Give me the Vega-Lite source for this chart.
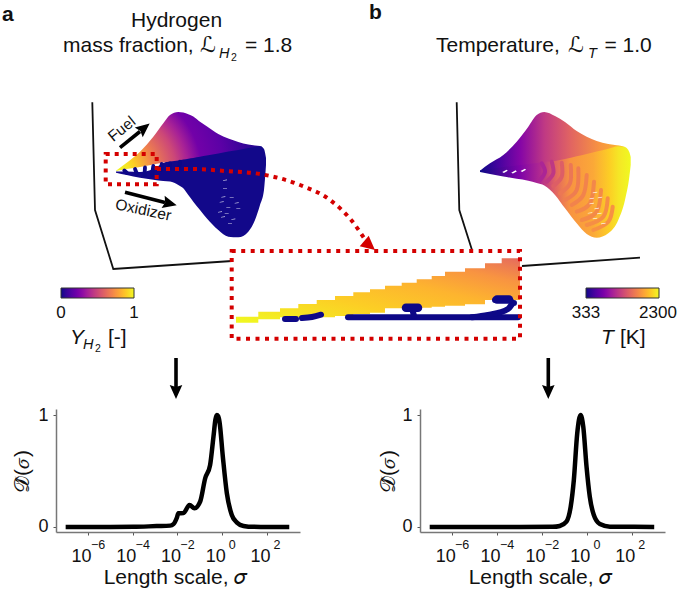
{
"$schema":"https://vega.github.io/schema/vega-lite/v6.json",
"width":685,"height":596,"padding":0,"autosize":"none","background":"white",
"config":{"view":{"stroke":null},"font":"Liberation Sans","text":{"font":"Liberation Sans","color":"#111111"}},
"resolve":{"scale":{"x":"independent","y":"independent","color":"independent"},"axis":{"x":"independent","y":"independent"}},
"layer":[
{"resolve":{"scale":{"color":"independent"}},
 "encoding":{"x":{"field":"x","type":"quantitative","scale":{"domain":[0,685],"range":[0,685],"nice":false,"zero":false},"axis":null},
  "y":{"field":"y","type":"quantitative","scale":{"domain":[0,596],"range":[0,596],"nice":false,"zero":false},"axis":null}},
 "layer":[
 {"data":{"values":[{"s":"a","x":92.3,"y":102.3},{"s":"a","x":95,"y":210},{"s":"a","x":113.3,"y":269},{"s":"a","x":232,"y":261},{"s":"b","x":456.7,"y":102.3},{"s":"b","x":459.3,"y":210},{"s":"b","x":472,"y":250},{"s":"c","x":522,"y":266},{"s":"c","x":640,"y":257.7}]},
  "mark":{"type":"line","color":"#111111","strokeWidth":1.8},"encoding":{"detail":{"field":"s"},"order":{"field":"x"}}},
 {"data":{"name":"left","values":[
  {"x":116,"top":170.7,"mid":171,"btop":171.5,"bot":172.7},{"x":126.7,"top":162.7,"mid":169,"btop":171.5,"bot":175},{"x":140,"top":151.7,"mid":167,"btop":172,"bot":177.7},{"x":153.3,"top":136.7,"mid":164.5,"btop":169,"bot":179.7},{"x":163.3,"top":123.3,"mid":162.5,"btop":163,"bot":181},{"x":170,"top":115,"mid":161.5,"btop":160.5,"bot":181.5},{"x":178.3,"top":112,"mid":160.5,"btop":159.5,"bot":185},{"x":183.3,"top":112.6,"mid":159.5,"btop":158.5,"bot":188.3},{"x":188.3,"top":114.3,"mid":158.7,"btop":157.7,"bot":195},{"x":193.3,"top":116.5,"mid":158,"btop":157,"bot":201.7},{"x":200,"top":121.7,"mid":156.8,"btop":155.8,"bot":210},{"x":206.7,"top":126.3,"mid":155.6,"btop":154.6,"bot":218.3},{"x":218.3,"top":134,"mid":153.5,"btop":152.5,"bot":230},{"x":228.3,"top":138.5,"mid":151.6,"btop":150.6,"bot":236.7},{"x":238.3,"top":142,"mid":150,"btop":149,"bot":237.3},{"x":248.3,"top":144.5,"mid":148,"btop":147,"bot":231.7},{"x":255,"top":145.5,"mid":147,"btop":146,"bot":220},{"x":260,"top":146,"mid":146.3,"btop":146,"bot":205},{"x":264,"top":149,"mid":149,"btop":149,"bot":190},{"x":266,"top":158,"mid":158,"btop":158,"bot":165}]},
  "mark":{"type":"area","orient":"vertical","interpolate":"monotone","color":"#12088a"},"encoding":{"y":{"field":"btop"},"y2":{"field":"bot"}}},
 {"data":{"name":"left"},
  "mark":{"type":"area","orient":"vertical","interpolate":"monotone","color":{"gradient":"radial","x1":0,"y1":0.7,"r1":0,"x2":0,"y2":0.7,"r2":1,"stops":[{"offset":0,"color":"#f0f921"},{"offset":0.08,"color":"#f5e626"},{"offset":0.13,"color":"#fcce25"},{"offset":0.25,"color":"#f1844b"},{"offset":0.4,"color":"#cc4778"},{"offset":0.48,"color":"#a82296"},{"offset":0.57,"color":"#7201a8"},{"offset":0.72,"color":"#5c01a6"},{"offset":0.92,"color":"#2c0594"},{"offset":1,"color":"#220690"}]}},
  "encoding":{"y":{"field":"top"},"y2":{"field":"mid"}}},
 {"data":{"values":[{"s":1,"x":124.3,"y":170.5,"Y":0},{"s":1,"x":127,"y":173,"Y":0},{"s":2,"x":135,"y":169,"Y":0},{"s":2,"x":137,"y":174,"Y":0},{"s":3,"x":145,"y":167.5,"Y":0},{"s":3,"x":144.5,"y":175,"Y":0},{"s":4,"x":153.3,"y":166,"Y":0},{"s":4,"x":152,"y":175,"Y":0},{"s":5,"x":161.7,"y":164,"Y":0},{"s":5,"x":161,"y":170,"Y":0},{"s":6,"x":170,"y":163.3,"Y":0},{"s":6,"x":169.5,"y":168,"Y":0},{"s":7,"x":180,"y":161.7,"Y":0},{"s":7,"x":179.5,"y":166,"Y":0}]},
  "mark":{"type":"line","strokeWidth":3.8,"strokeCap":"round"},
  "encoding":{"detail":{"field":"s"},"color":{"field":"Y","type":"quantitative","scale":{"scheme":"plasma","domain":[0,1]},
   "legend":{"orient":"none","legendX":61,"legendY":288,"direction":"horizontal","title":null,"gradientLength":73,"gradientThickness":10,"gradientStrokeColor":"#333333","gradientStrokeWidth":1,"values":[0,1],"labelExpr":"''"}}}},
 {"data":{"values":[{"x":225,"y":180},{"x":225,"y":188.3},{"x":223.3,"y":196.7},{"x":231.7,"y":197.3},{"x":221.7,"y":201.7},{"x":236.7,"y":202.7},{"x":228.3,"y":207.3},{"x":220,"y":211.7},{"x":238.3,"y":208.3},{"x":226.7,"y":213.3},{"x":233.3,"y":219},{"x":230,"y":223.3},{"x":223,"y":216.7}]},
  "mark":{"type":"point","filled":true,"shape":"M-1,0.1L1,-0.2L1,0.1L-1,0.4Z","size":16,"color":"white","opacity":0.85}},
 {"data":{"name":"right","values":[
  {"x":480,"top":170.7,"mid":171,"btop":170.5,"bot":172},{"x":490,"top":163.3,"mid":169,"btop":168,"bot":174},{"x":503.3,"top":155,"mid":167,"btop":166,"bot":176.5},{"x":516.7,"top":141.7,"mid":165.5,"btop":164.5,"bot":178.8},{"x":528.3,"top":126.7,"mid":164,"btop":163,"bot":180.7},{"x":536.7,"top":115,"mid":163,"btop":162,"bot":183},{"x":544.3,"top":112,"mid":162,"btop":161,"bot":185.5},{"x":555,"top":116,"mid":161,"btop":160,"bot":195},{"x":565,"top":122,"mid":159,"btop":158,"bot":208.3},{"x":576.7,"top":131,"mid":156.3,"btop":155.3,"bot":223.3},{"x":586.7,"top":136.7,"mid":154,"btop":153,"bot":234},{"x":596.7,"top":141,"mid":151.5,"btop":150.5,"bot":237.7},{"x":608.3,"top":144,"mid":148.7,"btop":147.7,"bot":233.3},{"x":618.3,"top":145.5,"mid":146.2,"btop":145.7,"bot":220},{"x":625,"top":147,"mid":147,"btop":147,"bot":200},{"x":629.3,"top":152,"mid":152,"btop":152,"bot":177},{"x":630.7,"top":157,"mid":157,"btop":157,"bot":165}]},
  "mark":{"type":"area","orient":"vertical","interpolate":"monotone","color":{"gradient":"linear","x1":0,"y1":0,"x2":1,"y2":0,"stops":[{"offset":0,"color":"#0d0887"},{"offset":0.265,"color":"#7e03a8"},{"offset":0.4,"color":"#b12a90"},{"offset":0.5,"color":"#e16462"},{"offset":0.6,"color":"#f89441"},{"offset":0.75,"color":"#fba838"},{"offset":0.86,"color":"#fcce25"},{"offset":0.92,"color":"#f5e626"},{"offset":1,"color":"#f0f921"}]}},
  "encoding":{"y":{"field":"btop"},"y2":{"field":"bot"}}},
 {"data":{"name":"right"},
  "mark":{"type":"area","orient":"vertical","interpolate":"monotone","color":{"gradient":"linear","x1":0,"y1":0,"x2":1,"y2":0,"stops":[{"offset":0,"color":"#0d0887"},{"offset":0.13,"color":"#4903a0"},{"offset":0.27,"color":"#8606a6"},{"offset":0.43,"color":"#c03a83"},{"offset":0.6,"color":"#e16462"},{"offset":0.8,"color":"#f89540"},{"offset":1,"color":"#fdc328"}]}},
  "encoding":{"y":{"field":"top"},"y2":{"field":"mid"}}},
 {"data":{"values":[
  {"s":1,"x":541.7,"y":163.3,"T":1080},{"s":1,"x":545,"y":171.7,"T":1080},{"s":1,"x":540,"y":180,"T":1080},
  {"s":2,"x":551.7,"y":161.7,"T":1218},{"s":2,"x":553.3,"y":173.3,"T":1218},{"s":2,"x":546.7,"y":181.7,"T":1218},
  {"s":3,"x":561.7,"y":162.7,"T":1474},{"s":3,"x":561.7,"y":176.7,"T":1474},{"s":3,"x":553.3,"y":186,"T":1474},
  {"s":4,"x":570.7,"y":165,"T":1631},{"s":4,"x":570,"y":183.3,"T":1631},{"s":4,"x":560,"y":193.3,"T":1631},
  {"s":5,"x":578.3,"y":168.3,"T":1670},{"s":5,"x":576.7,"y":190,"T":1670},{"s":5,"x":565,"y":200,"T":1670},
  {"s":6,"x":586.7,"y":175,"T":1710},{"s":6,"x":583.3,"y":195,"T":1710},{"s":6,"x":571.7,"y":205,"T":1710},
  {"s":7,"x":594,"y":181.7,"T":1730},{"s":7,"x":590,"y":203.3,"T":1730},{"s":7,"x":576.7,"y":211.7,"T":1730},
  {"s":8,"x":601,"y":190,"T":1749},{"s":8,"x":596.7,"y":211.7,"T":1749},{"s":8,"x":581.7,"y":220,"T":1749},
  {"s":9,"x":607.7,"y":198.3,"T":1769},{"s":9,"x":603.3,"y":216.7,"T":1769},{"s":9,"x":586.7,"y":225,"T":1769},
  {"s":10,"x":612.7,"y":206.7,"T":1789},{"s":10,"x":608.3,"y":221.7,"T":1789},{"s":10,"x":593.3,"y":230,"T":1789}]},
  "mark":{"type":"line","strokeWidth":4,"strokeCap":"round","interpolate":"natural"},
  "encoding":{"detail":{"field":"s"},"order":{"field":"y"},"color":{"field":"T","type":"quantitative","scale":{"scheme":"plasma","domain":[333,2300]},
   "legend":{"orient":"none","legendX":586,"legendY":288,"direction":"horizontal","title":null,"gradientLength":73,"gradientThickness":10,"gradientStrokeColor":"#333333","gradientStrokeWidth":1,"values":[333,2300],"labelExpr":"''"}}}},
 {"data":{"values":[{"x":505,"y":171},{"x":514,"y":171.7},{"x":523.3,"y":170}]},
  "mark":{"type":"point","filled":true,"shape":"M-1,0.4L0.6,-0.5L1,-0.1L-0.4,0.7Z","size":30,"color":"white","opacity":1}},
 {"data":{"values":[{"x":595,"y":192.3},{"x":591.7,"y":198.3},{"x":600,"y":197.3},{"x":591.7,"y":203.3},{"x":596.7,"y":208.3},{"x":590,"y":212.7},{"x":599.3,"y":213.3},{"x":595,"y":218.3},{"x":603.3,"y":223.3}]},
  "mark":{"type":"point","filled":true,"shape":"M-1,0.1L1,-0.2L1,0.1L-1,0.4Z","size":20,"color":"white","opacity":0.9}},
 {"data":{"values":[{"x":105.7,"x2":156.7,"y":154,"y2":184.3}]},
  "mark":{"type":"rect","fill":null,"stroke":"#d40000","strokeWidth":4,"strokeDash":[4,5]},"encoding":{"x2":{"field":"x2"},"y2":{"field":"y2"}}},
 {"data":{"values":[{"x":157,"y":169},{"x":193,"y":169},{"x":225,"y":171},{"x":260,"y":174},{"x":300,"y":185},{"x":330,"y":200},{"x":352,"y":221},{"x":366,"y":241}]},
  "mark":{"type":"line","color":"#d40000","strokeWidth":4,"strokeDash":[4,5],"interpolate":"monotone"}},
 {"data":{"values":[{"x":231.7,"x2":520,"y":251,"y2":338.7}]},
  "mark":{"type":"rect","color":"white"},"encoding":{"x2":{"field":"x2"},"y2":{"field":"y2"}}},
 {"data":{"values":[{"x":236,"top":316.7,"bot":322.7},{"x":258.3,"top":311.7,"bot":319.3},{"x":280,"top":308.3,"bot":317.3},{"x":298.3,"top":304,"bot":317.3},{"x":316.7,"top":300,"bot":317.3},{"x":335,"top":296,"bot":316},{"x":353.3,"top":292.3,"bot":314},{"x":370,"top":289.3,"bot":312.7},{"x":385,"top":285.7,"bot":308.3},{"x":401.7,"top":282.7,"bot":308.3},{"x":416.7,"top":279.3,"bot":307.7},{"x":431.7,"top":276,"bot":306.7},{"x":445,"top":271.7,"bot":305.7},{"x":465,"top":268.3,"bot":304.3},{"x":485,"top":263.3,"bot":300},{"x":501.7,"top":258.3,"bot":300},{"x":520,"top":256.7,"bot":300}]},
  "mark":{"type":"area","orient":"vertical","interpolate":"step-after","color":{"gradient":"linear","x1":0,"y1":1,"x2":1,"y2":0,"stops":[{"offset":0,"color":"#f0f921"},{"offset":0.35,"color":"#fcce25"},{"offset":0.6,"color":"#fdb42f"},{"offset":0.8,"color":"#f89441"},{"offset":1,"color":"#e4685f"}]}},
  "encoding":{"y":{"field":"top"},"y2":{"field":"bot"}}},
 {"data":{"values":[{"s":1,"o":1,"x":285,"y":319},{"s":1,"o":2,"x":296,"y":319},{"s":2,"o":1,"x":302,"y":318},{"s":2,"o":2,"x":312,"y":317},{"s":2,"o":3,"x":321,"y":314.7},{"s":3,"o":1,"x":348,"y":317.3},{"s":3,"o":2,"x":518,"y":317.3},{"s":5,"o":1,"x":412,"y":308},{"s":5,"o":2,"x":414,"y":316},{"s":6,"o":1,"x":495,"y":300},{"s":6,"o":2,"x":508,"y":300},{"s":6,"o":3,"x":514,"y":303},{"s":6,"o":4,"x":508,"y":309},{"s":6,"o":5,"x":488,"y":315},{"s":6,"o":6,"x":472,"y":317.3}]},
  "mark":{"type":"line","color":"#0d0887","strokeWidth":6,"strokeCap":"round","strokeJoin":"round","interpolate":"monotone"},"encoding":{"detail":{"field":"s"},"order":{"field":"o"}}},
 {"data":{"values":[{"s":4,"x":406,"y":307.7},{"s":4,"x":418,"y":307.7},{"s":7,"x":497,"y":299.5},{"s":7,"x":509,"y":299.5}]},
  "mark":{"type":"line","color":"#0d0887","strokeWidth":8.5,"strokeCap":"round"},"encoding":{"detail":{"field":"s"}}},
 {"data":{"values":[{"x":231.7,"x2":520,"y":251,"y2":338.7}]},
  "mark":{"type":"rect","fill":null,"stroke":"#d40000","strokeWidth":4,"strokeDash":[4,5.5]},"encoding":{"x2":{"field":"x2"},"y2":{"field":"y2"}}},
 {"data":{"values":[{"s":"f","x":120,"y":147.7},{"s":"f","x":140,"y":131.5},{"s":"o","x":125,"y":192.3},{"s":"o","x":165,"y":202.4},{"s":"l","x":176,"y":358},{"s":"l","x":176,"y":390},{"s":"r","x":548.3,"y":358},{"s":"r","x":548.3,"y":390}]},
  "mark":{"type":"line","color":"black","strokeWidth":3.6},"encoding":{"detail":{"field":"s"},"order":{"field":"y"}}},
 {"data":{"values":[{"x":144.2,"y":128,"dir":51},{"x":169.9,"y":203.6,"dir":104},{"x":176,"y":392,"dir":180},{"x":548.3,"y":392,"dir":180}]},
  "mark":{"type":"point","filled":true,"shape":"M0,-1L0.9,1L0,0.7L-0.9,1Z","size":196,"color":"black","opacity":1},"encoding":{"angle":{"field":"dir","type":"quantitative","scale":null}}},
 {"data":{"values":[{"x":369.6,"y":245.5,"dir":130}]},
  "mark":{"type":"point","filled":true,"shape":"M0,-1L1,1L-1,1Z","size":196,"color":"#d40000","opacity":1},"encoding":{"angle":{"field":"dir","type":"quantitative","scale":null}}},
 {"data":{"values":[{"x":2,"y":21,"t":"a"},{"x":369,"y":19,"t":"b"}]},"mark":{"type":"text","align":"left","baseline":"alphabetic","fontSize":21,"fontWeight":"bold"},"encoding":{"text":{"field":"t"}}},
 {"data":{"values":[{"x":131,"y":27,"t":"Hydrogen"},{"x":63,"y":52,"t":"mass fraction,"},{"x":245,"y":52,"t":"= 1.8"},{"x":436,"y":52,"t":"Temperature,"},{"x":604.5,"y":52,"t":"= 1.0"},{"x":108,"y":344,"t":"[-]"},{"x":620,"y":344,"t":"[K]"}]},"mark":{"type":"text","align":"left","baseline":"alphabetic","fontSize":21},"encoding":{"text":{"field":"t"}}},
 {"data":{"values":[{"x":61,"y":318,"t":"0"},{"x":134,"y":318,"t":"1"},{"x":586,"y":318,"t":"333"},{"x":658,"y":318,"t":"2300"}]},"mark":{"type":"text","align":"center","baseline":"alphabetic","fontSize":17},"encoding":{"text":{"field":"t"}}},
 {"data":{"values":[{"x":200,"y":52,"t":"ℒ"},{"x":568,"y":52,"t":"ℒ"}]},"mark":{"type":"text","align":"left","baseline":"alphabetic","fontSize":22,"font":"DejaVu Sans","fontStyle":"italic"},"encoding":{"text":{"field":"t"}}},
 {"data":{"values":[{"x":70,"y":344,"t":"Y"},{"x":601,"y":344,"t":"T"}]},"mark":{"type":"text","align":"left","baseline":"alphabetic","fontSize":21,"fontStyle":"italic"},"encoding":{"text":{"field":"t"}}},
 {"data":{"values":[{"x":219,"y":58,"t":"H"},{"x":588,"y":58,"t":"T"},{"x":83,"y":349,"t":"H"}]},"mark":{"type":"text","align":"left","baseline":"alphabetic","fontSize":14.5,"fontStyle":"italic"},"encoding":{"text":{"field":"t"}}},
 {"data":{"values":[{"x":231,"y":60.5,"t":"2"},{"x":95,"y":351.5,"t":"2"}]},"mark":{"type":"text","align":"left","baseline":"alphabetic","fontSize":10.5},"encoding":{"text":{"field":"t"}}},
 {"data":{"values":[{"x":121.7,"y":129,"t":"Fuel"}]},"mark":{"type":"text","align":"center","baseline":"middle","fontSize":15.5,"angle":321},"encoding":{"text":{"field":"t"}}},
 {"data":{"values":[{"x":143.3,"y":210,"t":"Oxidizer"}]},"mark":{"type":"text","align":"center","baseline":"middle","fontSize":15.5,"angle":12},"encoding":{"text":{"field":"t"}}}
 ]},
{"data":{"values":[{"sigma":1e-7,"D":0},{"sigma":1e-5,"D":0},{"sigma":1.07e-4,"D":0.001},{"sigma":1.17e-3,"D":0.008},{"sigma":4.7e-3,"D":0.012},{"sigma":6.6e-3,"D":0.025},{"sigma":9.3e-3,"D":0.08},{"sigma":1.1e-2,"D":0.122},{"sigma":1.86e-2,"D":0.125},{"sigma":3.47e-2,"D":0.197},{"sigma":5.75e-2,"D":0.167},{"sigma":0.1035,"D":0.226},{"sigma":0.174,"D":0.435},{"sigma":0.288,"D":0.553},{"sigma":0.407,"D":0.806},{"sigma":0.5,"D":0.96},{"sigma":0.575,"D":1},{"sigma":0.66,"D":0.99},{"sigma":0.759,"D":0.94},{"sigma":1.07,"D":0.628},{"sigma":1.62,"D":0.3},{"sigma":2.69,"D":0.107},{"sigma":4.57,"D":0.039},{"sigma":9,"D":0.009},{"sigma":25,"D":0.001},{"sigma":1000,"D":0}]},
 "mark":{"type":"line","color":"black","strokeWidth":4.5,"interpolate":"monotone"},
 "encoding":{"x":{"field":"sigma","type":"quantitative","scale":{"type":"log","domain":[3.7e-8,3020],"range":[56,300],"nice":false},
   "axis":{"orient":"bottom","offset":-64,"values":[1e-6,1e-4,0.01,1,100],"labelExpr":"'10'","labelOffset":-7,"labelFontSize":18,"labelFont":"Liberation Sans","labelColor":"#111111","labelPadding":12,"labelOverlap":false,"labelFlush":false,"labelBound":false,"grid":false,"tickSize":3,"tickColor":"#555555","domainColor":"#777777","domainWidth":1.5,"title":"Length scale, 𝜎","titleFont":"Liberation Sans","titleFontSize":21,"titleFontWeight":"normal","titleColor":"#111111","titleX":175,"titleY":51,"titleBaseline":"alphabetic","titleAlign":"center"}},
  "y":{"field":"D","type":"quantitative","scale":{"domain":[-0.045,1.054],"range":[532,409],"nice":false,"zero":false},
   "axis":{"orient":"left","offset":-56,"values":[0,1],"format":"d","labelFontSize":18,"labelFont":"Liberation Sans","labelColor":"#111111","labelPadding":5,"grid":false,"tickSize":3,"tickColor":"#555555","domainColor":"#777777","domainWidth":1.5,"title":"𝒟̂(𝜎)","titleFont":"Liberation Sans","titleFontSize":21,"titleFontWeight":"normal","titleColor":"#111111","titleX":-34,"titleY":471,"titleAngle":270,"titleBaseline":"middle","titleAlign":"center"}}}},
{"data":{"values":[{"sigma":1e-6,"e":"−6"},{"sigma":1e-4,"e":"−4"},{"sigma":0.01,"e":"−2"},{"sigma":1,"e":"0"},{"sigma":100,"e":"2"}]},
 "mark":{"type":"text","fontSize":12.5,"dx":10,"dy":13,"baseline":"middle"},
 "encoding":{"x":{"field":"sigma","type":"quantitative","scale":{"type":"log","domain":[3.7e-8,3020],"range":[56,300],"nice":false},"axis":null},"y":{"datum":-0.045,"type":"quantitative","scale":{"domain":[-0.045,1.054],"range":[532,409],"nice":false,"zero":false},"axis":null},"text":{"field":"e"}}},
{"data":{"values":[{"sigma":1e-7,"D":0},{"sigma":1e-3,"D":0},{"sigma":0.03,"D":0.001},{"sigma":0.0617,"D":0.009},{"sigma":0.123,"D":0.048},{"sigma":0.19,"D":0.18},{"sigma":0.263,"D":0.42},{"sigma":0.372,"D":0.836},{"sigma":0.525,"D":1},{"sigma":0.692,"D":0.896},{"sigma":0.966,"D":0.539},{"sigma":1.35,"D":0.27},{"sigma":2.04,"D":0.107},{"sigma":3.8,"D":0.027},{"sigma":10.7,"D":0.003},{"sigma":1000,"D":0}]},
 "mark":{"type":"line","color":"black","strokeWidth":4.5,"interpolate":"monotone"},
 "encoding":{"x":{"field":"sigma","type":"quantitative","scale":{"type":"log","domain":[3.7e-8,3020],"range":[420,665],"nice":false},
   "axis":{"orient":"bottom","offset":-64,"values":[1e-6,1e-4,0.01,1,100],"labelExpr":"'10'","labelOffset":-7,"labelFontSize":18,"labelFont":"Liberation Sans","labelColor":"#111111","labelPadding":12,"labelOverlap":false,"labelFlush":false,"labelBound":false,"grid":false,"tickSize":3,"tickColor":"#555555","domainColor":"#777777","domainWidth":1.5,"title":"Length scale, 𝜎","titleFont":"Liberation Sans","titleFontSize":21,"titleFontWeight":"normal","titleColor":"#111111","titleX":540,"titleY":51,"titleBaseline":"alphabetic","titleAlign":"center"}},
  "y":{"field":"D","type":"quantitative","scale":{"domain":[-0.045,1.054],"range":[532,409],"nice":false,"zero":false},
   "axis":{"orient":"left","offset":-420,"values":[0,1],"format":"d","labelFontSize":18,"labelFont":"Liberation Sans","labelColor":"#111111","labelPadding":5,"grid":false,"tickSize":3,"tickColor":"#555555","domainColor":"#777777","domainWidth":1.5,"title":"𝒟̂(𝜎)","titleFont":"Liberation Sans","titleFontSize":21,"titleFontWeight":"normal","titleColor":"#111111","titleX":-32,"titleY":471,"titleAngle":270,"titleBaseline":"middle","titleAlign":"center"}}}},
{"data":{"values":[{"sigma":1e-6,"e":"−6"},{"sigma":1e-4,"e":"−4"},{"sigma":0.01,"e":"−2"},{"sigma":1,"e":"0"},{"sigma":100,"e":"2"}]},
 "mark":{"type":"text","fontSize":12.5,"dx":10,"dy":13,"baseline":"middle"},
 "encoding":{"x":{"field":"sigma","type":"quantitative","scale":{"type":"log","domain":[3.7e-8,3020],"range":[420,665],"nice":false},"axis":null},"y":{"datum":-0.045,"type":"quantitative","scale":{"domain":[-0.045,1.054],"range":[532,409],"nice":false,"zero":false},"axis":null},"text":{"field":"e"}}}
]}
